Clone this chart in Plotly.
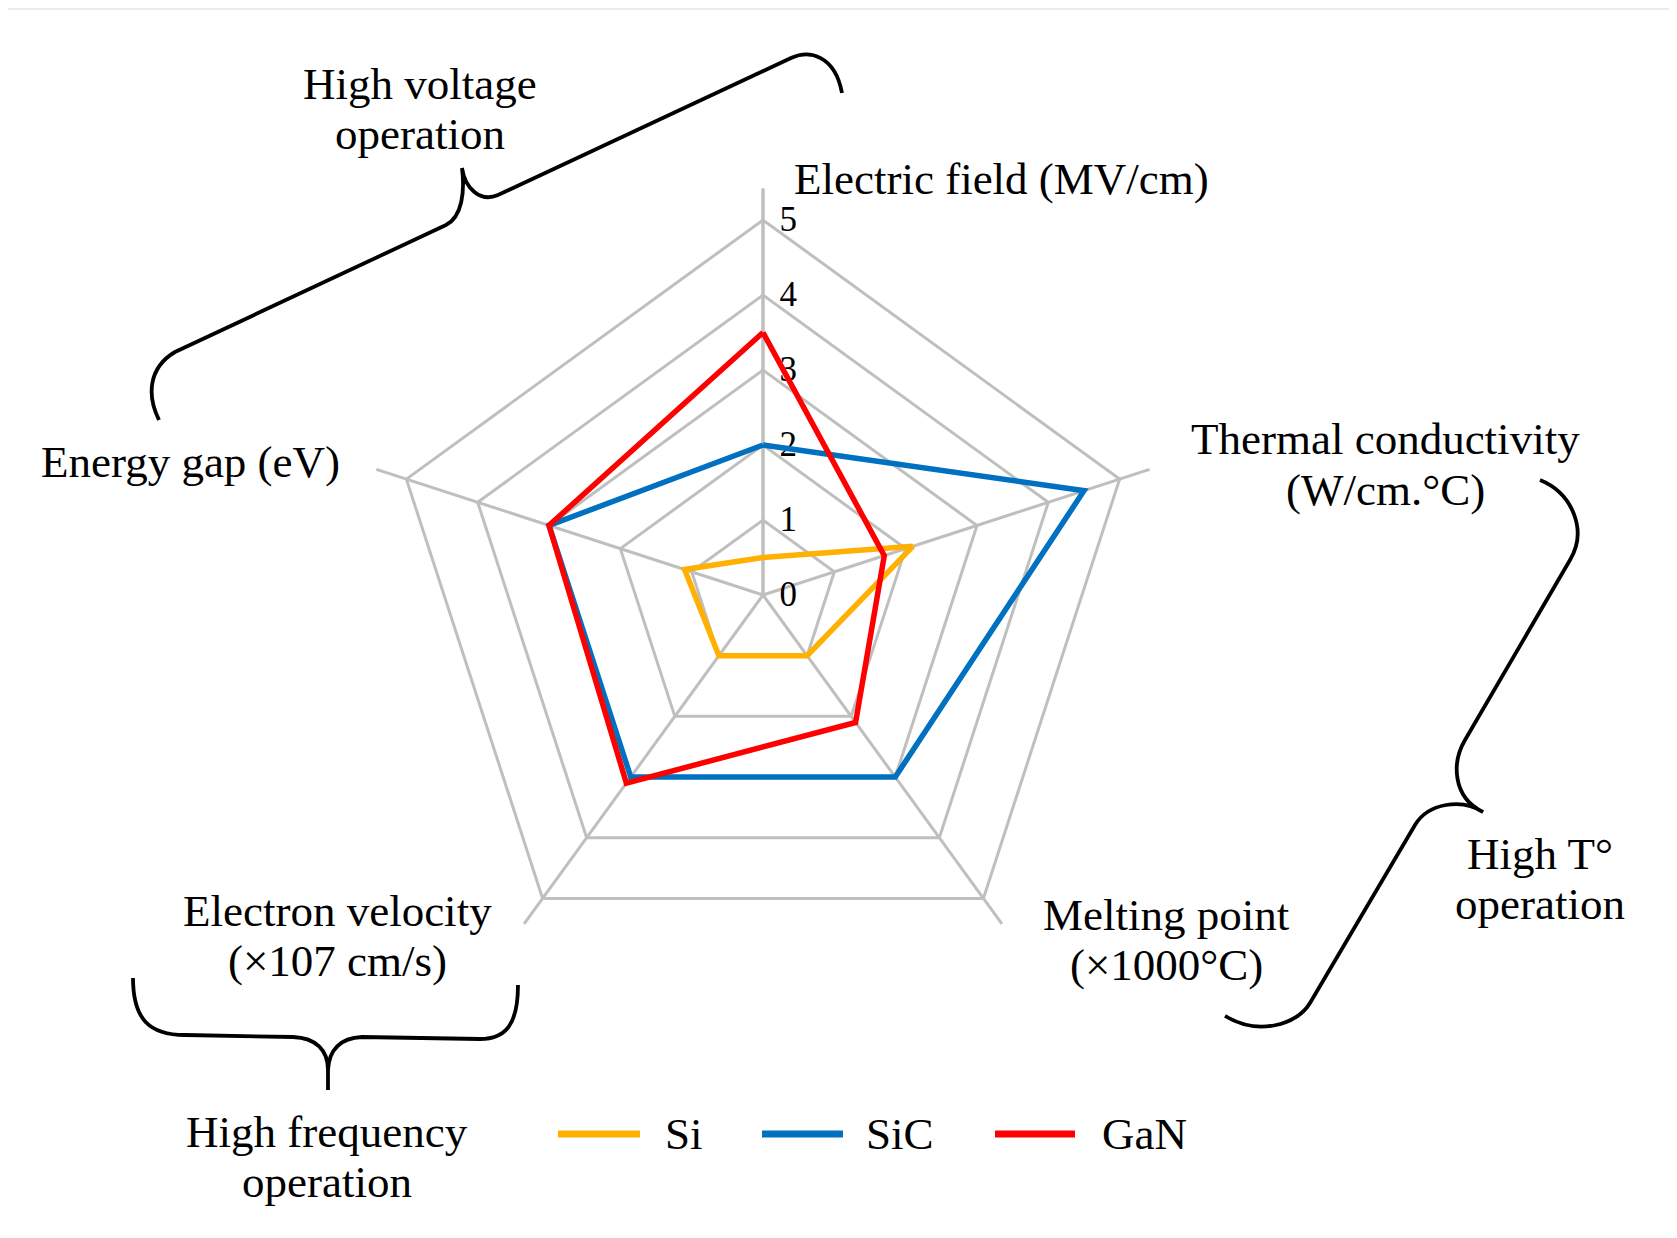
import plotly.graph_objects as go

# ---------------- data ----------------
categories = ["Electric field (MV/cm)", "Thermal conductivity (W/cm.°C)",
              "Melting point (×1000°C)", "Electron velocity (×107 cm/s)",
              "Energy gap (eV)"]
category_lines = [["Electric field (MV/cm)"],
                  ["Thermal conductivity", "(W/cm.°C)"],
                  ["Melting point", "(×1000°C)"],
                  ["Electron velocity", "(×107 cm/s)"],
                  ["Energy gap (eV)"]]
series_names = ["Si", "SiC", "GaN"]
si_values = [0.5, 2.1, 1.0, 1.0, 1.1]
sic_values = [2.0, 4.5, 3.0, 3.0, 3.0]
gan_values = [3.5, 1.7, 2.1, 3.1, 3.0]
series_values = [si_values, sic_values, gan_values]
series_colors = ["#FFB000", "#0070C0", "#FF0000"]
radial_ticks = [0, 1, 2, 3, 4, 5]
group_labels = [["High voltage", "operation"],
                ["High T°", "operation"],
                ["High frequency", "operation"]]

# ---------------- layout helpers ----------------
W, H = 1677, 1238          # browser window
OFF = 8                    # default page body margin
FW, FH = W - OFF, H - OFF  # figure size
FONT = "Liberation Serif"
CX, CY = 763, 595          # pixel centre of the radar (window coords)
UNIT = 75.0                # pixels per radial unit
RMAX = 5.42
TXT = 45


def px(x):
    return (x - OFF) / FW


def py(y):
    return 1 - (y - OFF) / FH


def path(cmds):
    out = []
    for c, pts in cmds:
        out.append(c + " " + " ".join(f"{px(x):.5f},{py(y):.5f}" for x, y in pts))
    return " ".join(out)


fig = go.Figure()
for name, vals, col in zip(series_names, series_values, series_colors):
    fig.add_trace(go.Scatterpolar(
        r=vals + vals[:1], theta=categories + categories[:1],
        mode="lines", name=name, line=dict(color=col, width=5.5),
        showlegend=False))

R = RMAX * UNIT
fig.update_layout(
    width=FW, height=FH, margin=dict(l=0, r=0, t=0, b=0),
    paper_bgcolor="white", plot_bgcolor="white",
    font=dict(family=FONT, color="black"),
    polar=dict(
        domain=dict(x=[px(CX - R), px(CX + R)], y=[py(CY + R), py(CY - R)]),
        bgcolor="white",
        gridshape="linear",
        angularaxis=dict(rotation=90, direction="clockwise",
                         showticklabels=False, ticks="", showline=False,
                         gridcolor="#BFBFBF", gridwidth=3),
        radialaxis=dict(range=[0, RMAX], tickvals=radial_ticks,
                        showgrid=True, gridcolor="#BFBFBF", gridwidth=3,
                        showline=True, linecolor="#BFBFBF", linewidth=3,
                        ticks="outside", ticklen=8, tickcolor="rgba(0,0,0,0)",
                        angle=90, tickangle=90, layer="below traces",
                        tickfont=dict(family=FONT, size=35, color="black")),
    ),
)

annotations = []


def add_text(txt, x, y, size=TXT):
    annotations.append(dict(text=txt, x=px(x), y=py(y), xref="paper", yref="paper",
                            showarrow=False, xanchor="center", yanchor="middle",
                            borderpad=0,
                            font=dict(family=FONT, size=size, color="black")))


# category labels (line centres in window pixels)
cat_pos = [[(1001, 179)],
           [(1385, 439), (1385, 490)],
           [(1166, 915), (1166, 965)],
           [(337, 911), (337, 961)],
           [(190, 462)]]
for lines, poss in zip(category_lines, cat_pos):
    for t, (x, y) in zip(lines, poss):
        add_text(t, x, y)

grp_pos = [[(420, 84), (420, 134)],
           [(1540, 854), (1540, 904)],
           [(327, 1132), (327, 1182)]]
for lines, poss in zip(group_labels, grp_pos):
    for t, (x, y) in zip(lines, poss):
        add_text(t, x, y)

# manual legend
leg_line = [(558, 640), (762, 843), (995, 1075)]
leg_text_x = [684, 900, 1144]
shapes = []
for name, col, (x0, x1), tx in zip(series_names, series_colors, leg_line, leg_text_x):
    shapes.append(dict(type="line", xref="paper", yref="paper",
                       x0=px(x0), x1=px(x1), y0=py(1134), y1=py(1134),
                       line=dict(color=col, width=7)))
    add_text(name, tx, 1134)

# braces
brace_style = dict(type="path", xref="paper", yref="paper",
                   line=dict(color="black", width=3.8))
braces = [
    [("M", [(159, 420)]), ("C", [(147, 396), (148, 368), (175, 352)]),
     ("L", [(446, 225)]), ("C", [(462, 217), (465, 192), (462, 168)]),
     ("C", [(465, 188), (480, 203), (498, 195)]),
     ("L", [(791, 58)]), ("C", [(809, 49.5), (835, 55), (842, 93)])],
    [("M", [(1540, 480)]), ("C", [(1572, 493), (1588, 530), (1570, 560)]),
     ("L", [(1465, 740)]), ("C", [(1452, 762), (1452, 797), (1483, 812)]),
     ("C", [(1462, 798), (1428, 803), (1415, 825)]),
     ("L", [(1310, 1003)]), ("C", [(1297, 1025), (1258, 1036), (1225, 1016)])],
    [("M", [(133, 978)]), ("C", [(133, 1020), (150, 1035), (185, 1035)]),
     ("L", [(293, 1037)]), ("C", [(316, 1038), (328, 1050), (328, 1070)]),
     ("L", [(328, 1090)]), ("M", [(328, 1070)]),
     ("C", [(329, 1050), (340, 1038), (362, 1037)]),
     ("L", [(480, 1039)]), ("C", [(506, 1039), (518, 1024), (518, 985)])],
]
for b in braces:
    shapes.append(dict(path=path(b), **brace_style))

# thin top border line
shapes.append(dict(type="line", xref="paper", yref="paper", x0=0, x1=1,
                   y0=py(9), y1=py(9), line=dict(color="#E6E6E6", width=1.5)))

fig.update_layout(annotations=annotations, shapes=shapes)
fig.write_html("out.html")
